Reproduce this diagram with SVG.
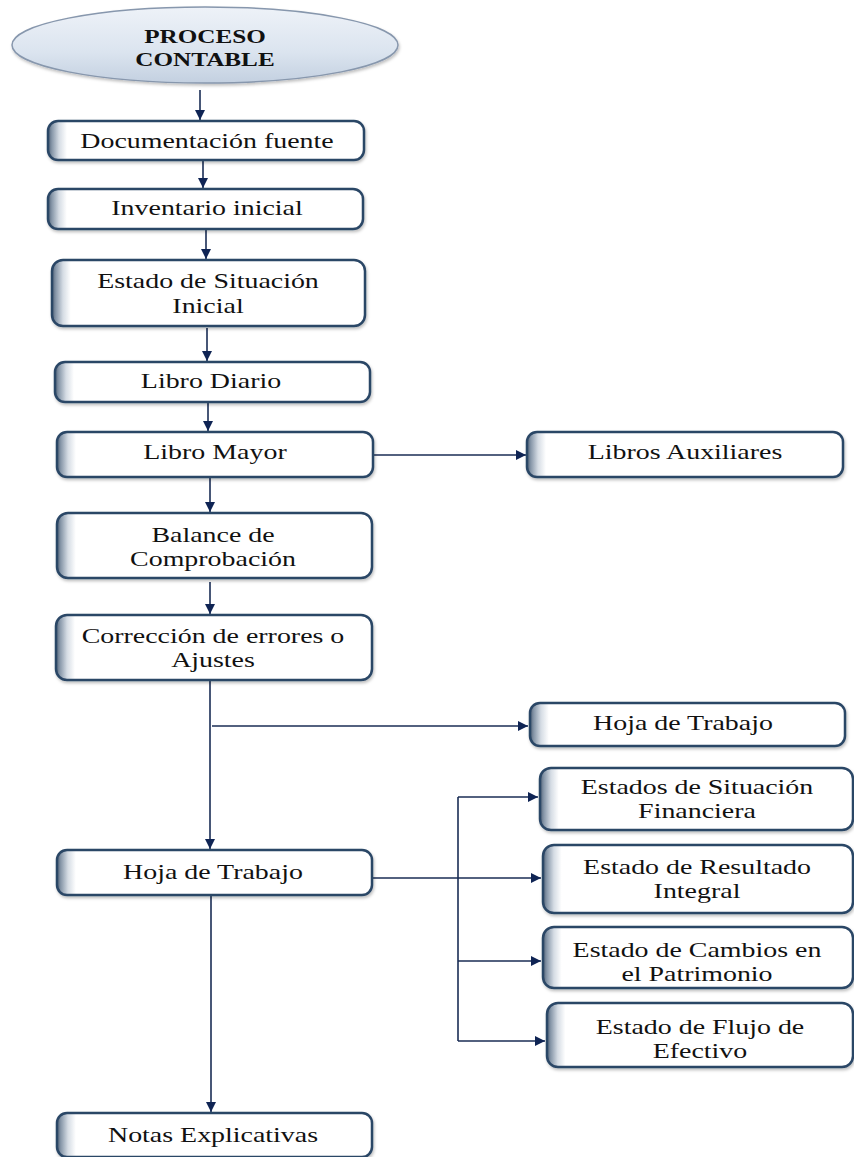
<svg xmlns="http://www.w3.org/2000/svg" width="854" height="1157" viewBox="0 0 854 1157">
<defs>
<linearGradient id="boxg" x1="0" y1="0" x2="1" y2="0">
<stop offset="0" stop-color="#4f6176"/>
<stop offset="0.012" stop-color="#8696a8"/>
<stop offset="0.035" stop-color="#d5dce4"/>
<stop offset="0.06" stop-color="#ffffff"/>
<stop offset="1" stop-color="#ffffff"/>
</linearGradient>
<linearGradient id="ellg" x1="0" y1="0" x2="0" y2="1">
<stop offset="0" stop-color="#eef2f8"/>
<stop offset="0.6" stop-color="#dbe4ef"/>
<stop offset="1" stop-color="#c3d0e0"/>
</linearGradient>
<filter id="sh" x="-10%" y="-20%" width="120%" height="150%">
<feDropShadow dx="1" dy="2" stdDeviation="1.5" flood-color="#000" flood-opacity="0.25"/>
</filter>
<marker id="ah" markerUnits="userSpaceOnUse" markerWidth="11" markerHeight="11" refX="10" refY="5" orient="auto">
<path d="M0,0 L10,5 L0,10 z" fill="#0f2454"/>
</marker>
<style>
.box{fill:url(#boxg);stroke:#2b4666;stroke-width:2.5;filter:url(#sh)}
.t{font-family:"Liberation Serif","Times New Roman",serif;font-size:21px;fill:#111;text-anchor:middle}
.tb{font-family:"Liberation Serif","Times New Roman",serif;font-size:18px;font-weight:bold;fill:#111;text-anchor:middle}
.c{fill:none;stroke:#1a2d55;stroke-width:1.6}
.ca{fill:none;stroke:#1a2d55;stroke-width:1.6;marker-end:url(#ah)}
</style>
</defs>

<g id="connectors">
<line class="ca" x1="200" y1="90" x2="200" y2="120"/>
<line class="ca" x1="203" y1="160" x2="203" y2="188"/>
<line class="ca" x1="206" y1="230" x2="206" y2="259"/>
<line class="ca" x1="207" y1="328" x2="207" y2="361"/>
<line class="ca" x1="208" y1="403" x2="208" y2="431"/>
<line class="ca" x1="373" y1="455" x2="526" y2="455"/>
<line class="ca" x1="210" y1="478" x2="210" y2="512"/>
<line class="ca" x1="210" y1="582" x2="210" y2="614"/>
<line class="ca" x1="210" y1="681" x2="210" y2="849"/>
<line class="ca" x1="212" y1="726" x2="528" y2="726"/>
<line class="c" x1="372" y1="878" x2="458" y2="878"/>
<line class="c" x1="458" y1="797" x2="458" y2="1041"/>
<line class="ca" x1="458" y1="797" x2="538" y2="797"/>
<line class="ca" x1="458" y1="878" x2="541" y2="878"/>
<line class="ca" x1="458" y1="961" x2="541" y2="961"/>
<line class="ca" x1="458" y1="1041" x2="545" y2="1041"/>
<line class="ca" x1="211" y1="896" x2="211" y2="1112"/>
</g>

<g id="n-proceso">
<ellipse cx="205" cy="45" rx="193" ry="38" fill="url(#ellg)" stroke="#8797ad" stroke-width="1.5" filter="url(#sh)"/>
<text class="tb" transform="translate(205,43) scale(1.4,1)">PROCESO</text>
<text class="tb" transform="translate(205,66) scale(1.4,1)">CONTABLE</text>
</g>

<g id="n-doc">
<rect class="box" x="48" y="121" width="316" height="39" rx="10"/>
<text class="t" transform="translate(207,148) scale(1.33,1)">Documentación fuente</text>
</g>

<g id="n-inv">
<rect class="box" x="48" y="189" width="315" height="40" rx="10"/>
<text class="t" transform="translate(207,215) scale(1.33,1)">Inventario inicial</text>
</g>

<g id="n-esi">
<rect class="box" x="52" y="260" width="313" height="66" rx="11"/>
<text class="t" transform="translate(208,288) scale(1.33,1)">Estado de Situación</text>
<text class="t" transform="translate(208,313) scale(1.33,1)">Inicial</text>
</g>

<g id="n-diario">
<rect class="box" x="55" y="362" width="315" height="40" rx="10"/>
<text class="t" transform="translate(211,388) scale(1.33,1)">Libro Diario</text>
</g>

<g id="n-mayor">
<rect class="box" x="57" y="432" width="316" height="45" rx="10"/>
<text class="t" transform="translate(215,459) scale(1.33,1)">Libro Mayor</text>
</g>

<g id="n-aux">
<rect class="box" x="527" y="432" width="316" height="45" rx="10"/>
<text class="t" transform="translate(685,459) scale(1.33,1)">Libros Auxiliares</text>
</g>

<g id="n-balance">
<rect class="box" x="57" y="513" width="315" height="65" rx="11"/>
<text class="t" transform="translate(213,542) scale(1.33,1)">Balance de</text>
<text class="t" transform="translate(213,566) scale(1.33,1)">Comprobación</text>
</g>

<g id="n-correccion">
<rect class="box" x="56" y="615" width="316" height="65" rx="11"/>
<text class="t" transform="translate(213,643) scale(1.33,1)">Corrección de errores o</text>
<text class="t" transform="translate(213,667) scale(1.33,1)">Ajustes</text>
</g>

<g id="n-hoja-der">
<rect class="box" x="530" y="703" width="315" height="43" rx="10"/>
<text class="t" transform="translate(683,730) scale(1.33,1)">Hoja de Trabajo</text>
</g>

<g id="n-hoja">
<rect class="box" x="57" y="850" width="315" height="45" rx="10"/>
<text class="t" transform="translate(213,879) scale(1.33,1)">Hoja de Trabajo</text>
</g>

<g id="n-esf">
<rect class="box" x="540" y="768" width="313" height="62" rx="11"/>
<text class="t" transform="translate(697,794) scale(1.33,1)">Estados de Situación</text>
<text class="t" transform="translate(697,818) scale(1.33,1)">Financiera</text>
</g>

<g id="n-eri">
<rect class="box" x="543" y="845" width="310" height="68" rx="11"/>
<text class="t" transform="translate(697,874) scale(1.33,1)">Estado de Resultado</text>
<text class="t" transform="translate(697,898) scale(1.33,1)">Integral</text>
</g>

<g id="n-ecp">
<rect class="box" x="543" y="927" width="310" height="61" rx="11"/>
<text class="t" transform="translate(697,957) scale(1.33,1)">Estado de Cambios en</text>
<text class="t" transform="translate(697,981) scale(1.33,1)">el Patrimonio</text>
</g>

<g id="n-efe">
<rect class="box" x="547" y="1003" width="306" height="64" rx="11"/>
<text class="t" transform="translate(700,1034) scale(1.33,1)">Estado de Flujo de</text>
<text class="t" transform="translate(700,1058) scale(1.33,1)">Efectivo</text>
</g>

<g id="n-notas">
<rect class="box" x="57" y="1113" width="315" height="44" rx="10"/>
<text class="t" transform="translate(213,1142) scale(1.33,1)">Notas Explicativas</text>
</g>
</svg>
